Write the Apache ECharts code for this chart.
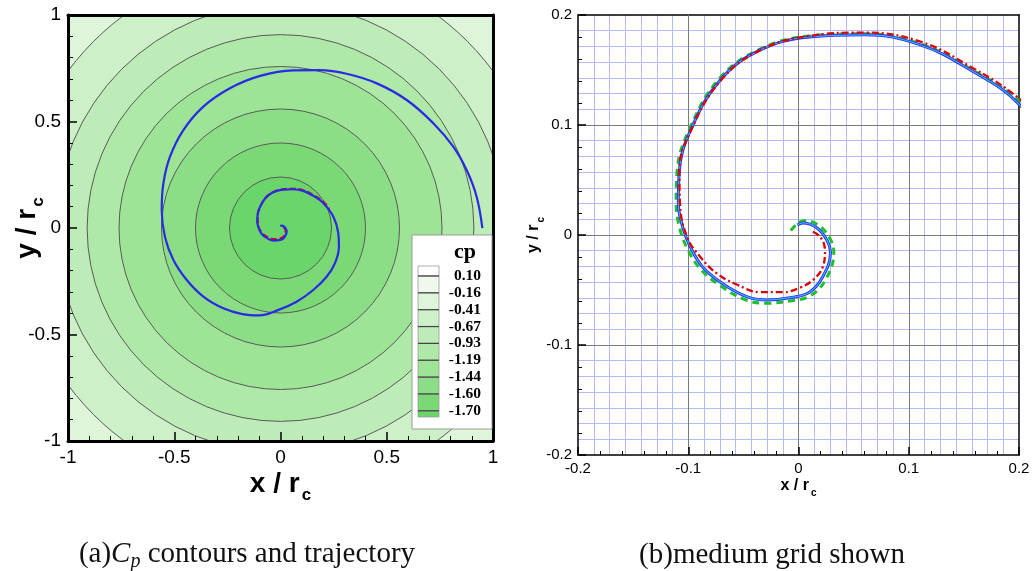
<!DOCTYPE html>
<html><head><meta charset="utf-8">
<script src="https://cdn.jsdelivr.net/npm/echarts@6/dist/echarts.min.js"></script>
<style>html,body{margin:0;padding:0;background:#fff}#c{width:1033px;height:571px}</style>
</head><body><div id="c"></div>
<script>
// ---------------- data ----------------
const cpLevels = ['0.10','-0.16','-0.41','-0.67','-0.93','-1.19','-1.44','-1.60','-1.70'];
// fill colours: above first level, between levels, below last level
const cpColors = ['#ffffff','#eef9ec','#def5da','#cdf0c9','#bdecb8','#aee9a8','#9de497','#8cde86','#7bd975','#6ad56a'];
// radius (x/r_c) of the circular contour of each level; null = outside the view
const cpRadius = [null, null, 1.243, 1.057, 0.91, 0.76, 0.56, 0.40, 0.24];
const vortexCenter = [0, 0];

const leftTicks = [-1, -0.5, 0, 0.5, 1];
const rightTicks = [-0.2, -0.1, 0, 0.1, 0.2];

// trajectory (x/r_c, y/r_c), from vortex core outward
const blueTraj = [[-0.001,0.009],[0.004,0.011],[0.016,0.007],[0.026,-0.005],[0.029,-0.016],[0.022,-0.038],[0.010,-0.052],[-0.008,-0.057],[-0.029,-0.059],[-0.047,-0.056],[-0.069,-0.044],[-0.087,-0.029],[-0.098,-0.011],[-0.105,0.007],[-0.109,0.029],[-0.108,0.059],[-0.098,0.095],[-0.071,0.141],[-0.035,0.168],[0.010,0.180],[0.060,0.182],[0.110,0.173],[0.156,0.150],[0.200,0.119],[0.249,0.053],[0.272,-0.025],[0.275,-0.088],[0.256,-0.166],[0.217,-0.229],[0.154,-0.291],[0.076,-0.346],[-0.018,-0.388],[-0.100,-0.410],[-0.180,-0.404],[-0.269,-0.377],[-0.363,-0.322],[-0.441,-0.244],[-0.504,-0.150],[-0.544,-0.041],[-0.559,0.085],[-0.551,0.210],[-0.520,0.335],[-0.457,0.460],[-0.363,0.570],[-0.238,0.656],[-0.096,0.714],[0.060,0.740],[0.186,0.741],[0.311,0.724],[0.453,0.679],[0.594,0.601],[0.719,0.492],[0.813,0.382],[0.876,0.272],[0.923,0.147],[0.950,-0.001]];
const redTraj = [[0.013,0.003],[0.020,-0.002],[0.024,-0.014],[0.022,-0.029],[0.013,-0.041],[0.001,-0.048],[-0.014,-0.052],[-0.035,-0.052],[-0.056,-0.045],[-0.074,-0.035],[-0.089,-0.020],[-0.101,-0.002],[-0.1075,0.029],[-0.108,0.059],[-0.098,0.094],[-0.071,0.140],[-0.035,0.168],[0.010,0.181],[0.060,0.184],[0.110,0.176],[0.156,0.153],[0.200,0.124],[0.230,0.090]];
const greenTraj = [[-0.007,0.004],[0.005,0.013],[0.018,0.009],[0.029,-0.004],[0.032,-0.016],[0.025,-0.040],[0.011,-0.055],[-0.008,-0.060],[-0.029,-0.062],[-0.048,-0.059],[-0.071,-0.046],[-0.089,-0.031],[-0.101,-0.012],[-0.108,0.007],[-0.111,0.029],[-0.110,0.059],[-0.099,0.096],[-0.072,0.142],[-0.035,0.169],[0.010,0.181],[0.060,0.183],[0.110,0.174],[0.156,0.151],[0.200,0.122],[0.230,0.085]];

// ---------------- chart ----------------
const chart = echarts.init(document.getElementById('c'));

const firstVisible = cpRadius.findIndex(r => r != null);
const circleData = [];
cpRadius.forEach((r, i) => { if (r != null) circleData.push([r, i + 1]); });

const SANS = 'Liberation Sans';
const SERIF = 'Liberation Serif';

function nameStyle(size, subSize, lh) {
  return {
    color: '#000',
    rich: {
      m: { fontFamily: SANS, fontWeight: 'bold', fontSize: size, lineHeight: lh, verticalAlign: 'top', color: '#000' },
      c: { fontFamily: SANS, fontWeight: 'bold', fontSize: subSize, lineHeight: lh, verticalAlign: 'bottom', color: '#000', padding: [0, 0, 0, 2] }
    }
  };
}

function mainAxis(grid, pos, ticks, big) {
  return {
    type: 'value', gridIndex: grid, position: pos,
    min: ticks[0], max: ticks[ticks.length - 1], interval: ticks[1] - ticks[0],
    z: big ? 5 : 1,
    nameMoveOverlap: false,
    axisLine: { show: true, onZero: false, lineStyle: { color: '#000', width: big ? 3 : 1.5 } },
    axisTick: { show: true, inside: true, length: big ? 9 : 8, lineStyle: { color: '#000', width: 1.5 } },
    minorTick: { show: true, splitNumber: 5, length: big ? 5 : 4, lineStyle: { color: '#000', width: 1 } },
    axisLabel: { fontFamily: SANS, fontSize: big ? 19 : 15, color: '#000', margin: big ? 7 : 6 },
    splitLine: big ? { show: false } : { show: true, showMinLine: false, showMaxLine: false, lineStyle: { color: '#7a7a7a', width: 1 } },
    minorSplitLine: { show: false }
  };
}
function borderAxis(grid, pos, width, mesh) {
  return {
    type: 'value', gridIndex: grid, position: pos,
    min: mesh ? mesh[0] : -1, max: mesh ? mesh[1] : 1, interval: mesh ? 0.1 : 0.5,
    z: mesh ? 0 : 5,
    axisLine: { show: true, onZero: false, lineStyle: { color: '#000', width: width } },
    axisTick: { show: false }, axisLabel: { show: false },
    minorTick: { show: false, splitNumber: 7 },
    splitLine: mesh ? { show: true, showMinLine: false, showMaxLine: false, lineStyle: { color: '#b6baf7', width: 1 } } : { show: false },
    minorSplitLine: mesh ? { show: true, lineStyle: { color: '#b6baf7', width: 1 } } : { show: false }
  };
}

const xL = mainAxis(0, 'bottom', leftTicks, true);
Object.assign(xL, { name: '{m|x / r}{c|c}', nameLocation: 'middle', nameGap: 29, nameTextStyle: nameStyle(28, 17, 34) });
const yL = mainAxis(0, 'left', leftTicks, true);
Object.assign(yL, { name: '{m|y / r}{c|c}', nameLocation: 'middle', nameGap: 21, nameTextStyle: nameStyle(28, 17, 34) });
const xR = mainAxis(1, 'bottom', rightTicks, false);
Object.assign(xR, { name: '{m|x / r}{c|c}', nameLocation: 'middle', nameGap: 23, nameTextStyle: nameStyle(16, 10, 20) });
const yR = mainAxis(1, 'left', rightTicks, false);
Object.assign(yR, { name: '{m|y / r}{c|c}', nameLocation: 'middle', nameGap: 32, nameTextStyle: nameStyle(16, 10, 20) });

const meshRange = [rightTicks[0], rightTicks[rightTicks.length - 1]];

// legend layout
const LG = { x: 412, y: 235, w: 80, h: 194, swX: 418, swW: 21, top: 266, first: 276, step: 16.85, bottom: 417, labX: 481 };
const els = [];
els.push({ type: 'rect', z: 100, shape: { x: LG.x, y: LG.y, width: LG.w, height: LG.h }, style: { fill: '#fff', stroke: '#9a9a9a', lineWidth: 1 } });
els.push({ type: 'text', z: 101, x: 465, y: 252, style: { text: 'cp', fontFamily: SERIF, fontWeight: 'bold', fontSize: 22, fill: '#000', align: 'center', verticalAlign: 'middle' } });
for (let i = 0; i <= cpLevels.length; i++) {
  const y0 = i === 0 ? LG.top : LG.first + (i - 1) * LG.step;
  const y1 = i === cpLevels.length ? LG.bottom : LG.first + i * LG.step;
  els.push({ type: 'rect', z: 101, shape: { x: LG.swX, y: y0, width: LG.swW, height: y1 - y0 }, style: { fill: cpColors[i], stroke: '#9a9a9a', lineWidth: 0.8 } });
}
cpLevels.forEach((lv, i) => {
  const y = LG.first + i * LG.step;
  els.push({ type: 'line', z: 102, shape: { x1: LG.swX, y1: y, x2: LG.swX + LG.swW, y2: y }, style: { stroke: '#444', lineWidth: 1.2 } });
  els.push({ type: 'text', z: 102, x: LG.labX, y: y, style: { text: lv, fontFamily: SERIF, fontWeight: 'bold', fontSize: 15.5, fill: '#000', align: 'right', verticalAlign: 'middle' } });
});

const capRich = {
  i: { fontFamily: SERIF, fontStyle: 'italic', fontSize: 29, fill: '#111', lineHeight: 32, verticalAlign: 'top' },
  n: { fontFamily: SERIF, fontSize: 29, fill: '#111', lineHeight: 32, verticalAlign: 'top' },
  s: { fontFamily: SERIF, fontStyle: 'italic', fontSize: 20, fill: '#111', lineHeight: 32, verticalAlign: 'bottom' }
};
els.push({ type: 'text', z: 102, x: 247, y: 556, style: { text: '{n|(a)}{i|C}{s|p}{n| contours and trajectory}', rich: capRich, fontFamily: SERIF, fontSize: 29, fill: '#111', align: 'center', verticalAlign: 'middle' } });
els.push({ type: 'text', z: 102, x: 772, y: 555, style: { text: '(b)medium grid shown', fontFamily: SERIF, fontSize: 29, fill: '#111', align: 'center', verticalAlign: 'middle' } });

const option = {
  backgroundColor: '#fff',
  animation: false,
  grid: [
    { left: 68, top: 15, width: 425, height: 426, show: true, backgroundColor: cpColors[firstVisible], borderWidth: 0 },
    { left: 578, top: 15, width: 441, height: 440, show: true, backgroundColor: '#fff', borderWidth: 0 }
  ],
  xAxis: [xL, borderAxis(0, 'top', 3), xR, borderAxis(1, 'top', 1.5, meshRange)],
  yAxis: [yL, borderAxis(0, 'right', 3), yR, borderAxis(1, 'right', 1.5, meshRange)],
  graphic: els,
  series: [
    {
      type: 'custom', xAxisIndex: 0, yAxisIndex: 0, clip: true, z: 2,
      data: circleData,
      renderItem: function (params, api) {
        const c = api.coord(vortexCenter);
        const s = api.size([api.value(0), api.value(0)]);
        return { type: 'circle', shape: { cx: c[0], cy: c[1], r: s[0] },
          style: { fill: cpColors[api.value(1)], stroke: '#5a5a5a', lineWidth: 1 } };
      }
    },
    { type: 'line', xAxisIndex: 0, yAxisIndex: 0, data: redTraj, smooth: 0.4, showSymbol: false, z: 3,
      lineStyle: { color: '#e00000', width: 2.2, type: [6, 3] } },
    { type: 'line', xAxisIndex: 0, yAxisIndex: 0, data: blueTraj, smooth: 0.4, showSymbol: false, z: 4,
      lineStyle: { color: '#2a2ae6', width: 2.2 } },

    { type: 'line', xAxisIndex: 2, yAxisIndex: 2, data: greenTraj, smooth: 0.4, showSymbol: false, z: 3,
      lineStyle: { color: '#1fbf2a', width: 3, type: [7, 5] } },
    { type: 'line', xAxisIndex: 2, yAxisIndex: 2, data: blueTraj, smooth: 0.4, showSymbol: false, z: 4,
      lineStyle: { color: '#2233e8', width: 3 } },
    { type: 'line', xAxisIndex: 2, yAxisIndex: 2, data: blueTraj, smooth: 0.4, showSymbol: false, z: 5,
      lineStyle: { color: '#48a6ff', width: 1.2 } },
    { type: 'line', xAxisIndex: 2, yAxisIndex: 2, data: redTraj, smooth: 0.4, showSymbol: false, z: 6,
      lineStyle: { color: '#dd0000', width: 2.3, type: [7, 3, 2, 3] } }
  ]
};
chart.setOption(option);
</script>
</body></html>
